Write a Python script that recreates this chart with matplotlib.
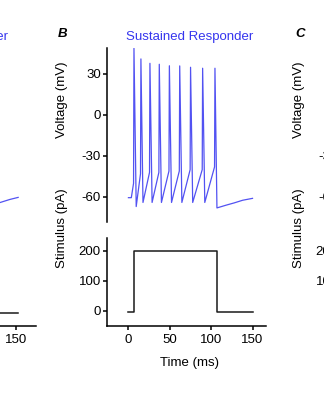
import matplotlib.pyplot as plt

plt.rcParams['font.family'] = ['Liberation Sans', 'DejaVu Sans']
plt.rcParams['axes.unicode_minus'] = False

# membrane voltage of the sustained responder (ms, mV), corner points of the trace
sustained_t = [0, 3.5, 6.2, 6.7, 9.4,
               14.6, 15.1, 17.6,
               25.5, 26.0, 28.6,
               36.8, 37.3, 39.9,
               49.0, 49.5, 52.1,
               61.5, 62.0, 64.6,
               74.6, 75.1, 77.7,
               89.2, 89.7, 92.3,
               104.1, 104.6, 107.0,
               118, 128, 138, 150]
sustained_v = [-60.5, -60.5, -50, 48.8, -67,
               -43, 41.0, -64,
               -42, 37.8, -64,
               -42, 37.1, -64,
               -41, 36.0, -64,
               -41, 35.9, -64,
               -40, 34.9, -64,
               -40, 34.2, -64,
               -38, 34.2, -68,
               -66, -64.3, -62.4, -61]

# injected current step (ms, pA)
sustained_stim_t = [0, 6.5, 6.5, 107.5, 107.5, 150]
sustained_stim_pa = [-5, -5, 200, 200, -5, -5]

# end of the neighbouring phasic trace
phasic_t = [120, 132, 142, 152]
phasic_v = [-66, -63.7, -61.8, -60.3]
phasic_stim_t = [110, 152]
phasic_stim_pa = [-6, -6]

W, H = 324, 400
blue_text = '#3535ee'
blue_trace = '#5252f2'

fig = plt.figure(figsize=(W / 100, H / 100), dpi=100)


def box(x0, x1, y0, y1):
    # pixel box (top-left origin) -> figure rect
    return [x0 / W, 1 - y1 / H, (x1 - x0) / W, (y1 - y0) / H]


def panel(dx, letter, title, vt=None, vv=None, st=None, sp=None,
          right=266, xmax=166.3, side_text=True):
    ax_v = fig.add_axes(box(107 + dx, right + dx, 48, 222))
    ax_s = fig.add_axes(box(107 + dx, right + dx, 238, 326))

    if vt is not None:
        ax_v.plot(vt, vv, color=blue_trace, linewidth=0.9)
    if st is not None:
        ax_s.plot(st, sp, color='#1a1a1a', linewidth=1.1)

    for ax in (ax_v, ax_s):
        ax.set_xlim(-25.9, xmax)
        ax.spines['top'].set_visible(False)
        ax.spines['right'].set_visible(False)
        ax.spines['left'].set_linewidth(1.1)
        ax.spines['bottom'].set_linewidth(1.1)
        ax.tick_params(length=3, width=1.1, pad=1.5, labelsize=9.5)
        ax.patch.set_alpha(0)

    ax_v.set_ylim(-78.3, 49.0)
    ax_v.set_yticks([-60, -30, 0, 30])
    ax_v.spines['bottom'].set_visible(False)
    ax_v.set_xticks([])

    ax_s.set_ylim(-50, 243)
    ax_s.set_yticks([0, 100, 200])
    ax_s.set_xticks([0, 50, 100, 150])
    ax_s.tick_params(axis='x', pad=3)

    fig.text((189.5 + dx) / W, 1 - 37 / H, title, color=blue_text,
             ha='center', va='center', fontsize=9.5)
    if not side_text:
        ax_v.tick_params(labelleft=False)
        ax_s.tick_params(labelleft=False)
        return

    fig.text((62 + dx) / W, 1 - 100 / H, 'Voltage (mV)', rotation=90,
             ha='center', va='center', fontsize=9.5)
    fig.text((62 + dx) / W, 1 - 228 / H, 'Stimulus (pA)', rotation=90,
             ha='center', va='center', fontsize=9.5)
    fig.text((189 + dx) / W, 1 - 363 / H, 'Time (ms)',
             ha='center', va='center', fontsize=9.5)
    fig.text((63 + dx) / W, 1 - 34 / H, letter, fontweight='bold',
             fontstyle='italic', ha='center', va='center', fontsize=9.5)


panel(-236, 'A', 'Phasic Responder', phasic_t, phasic_v, phasic_stim_t, phasic_stim_pa,
      right=272, xmax=173.6, side_text=False)
panel(0, 'B', 'Sustained Responder', sustained_t, sustained_v,
      sustained_stim_t, sustained_stim_pa)
panel(237, 'C', '')

fig.savefig('out.png', dpi=100)
